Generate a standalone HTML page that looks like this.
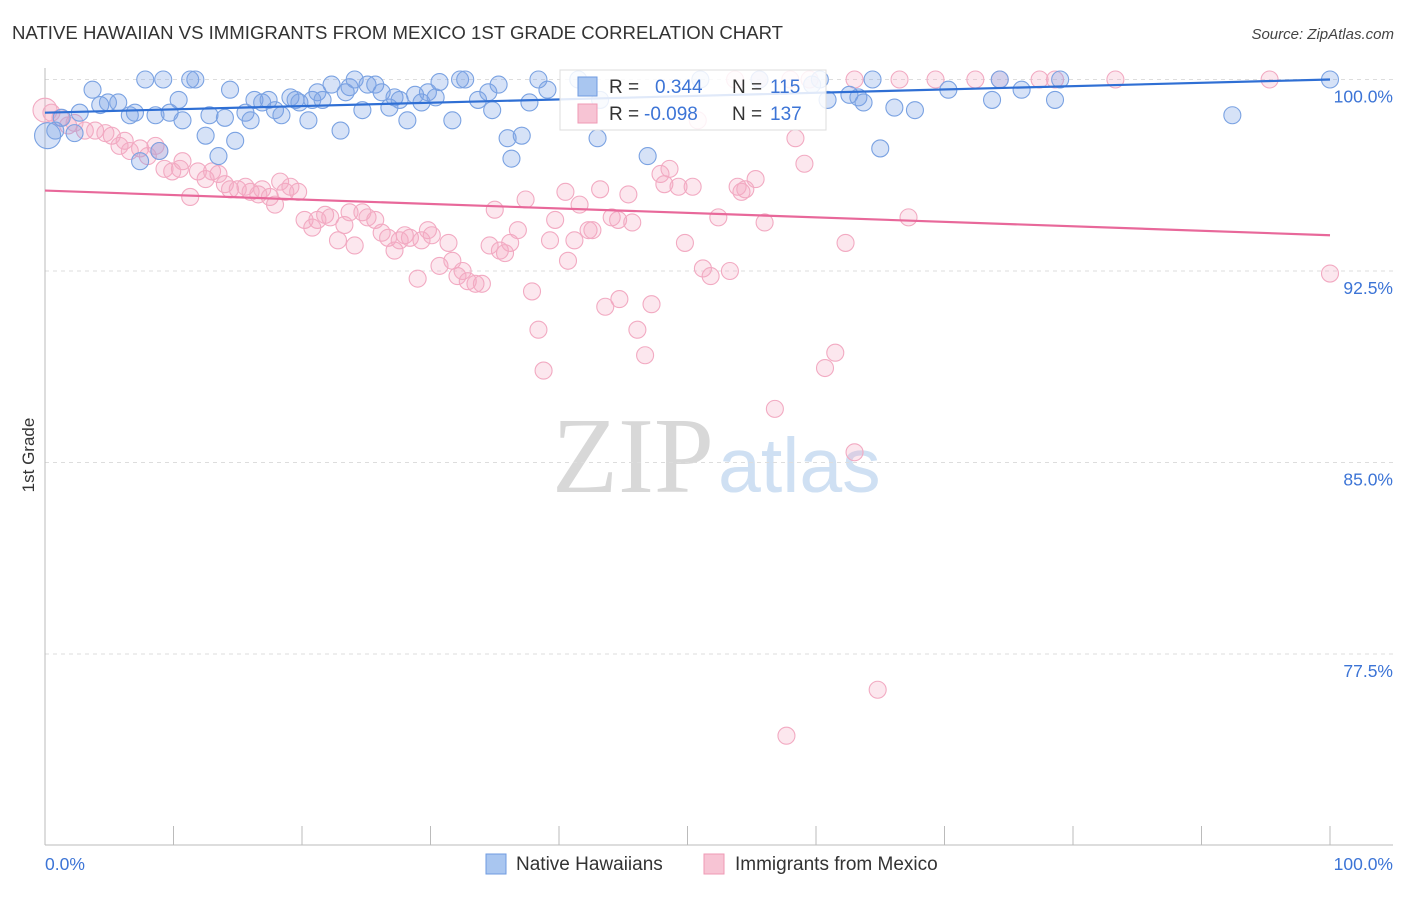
<!DOCTYPE html>
<html><head><meta charset="utf-8"><style>
body{margin:0;background:#fff;font-family:"Liberation Sans",sans-serif}
svg text{font-family:"Liberation Sans",sans-serif}
</style></head><body>
<svg id="chart" width="1406" height="892" xmlns="http://www.w3.org/2000/svg">
<text x="12" y="39" font-size="18.6" fill="#333">NATIVE HAWAIIAN VS IMMIGRANTS FROM MEXICO 1ST GRADE CORRELATION CHART</text>
<text x="1394" y="39" font-size="15" fill="#444" text-anchor="end" font-style="italic">Source: ZipAtlas.com</text>
<g>
<text x="552" y="492" font-size="108" fill="#d8d8d8" font-family="Liberation Serif" style="font-family:'Liberation Serif',serif">ZIP</text>
<text x="718" y="492" font-size="77" fill="#cfe0f3">atlas</text>
</g>
<g id="grid"></g>
<g id="axes"></g>
<g id="marks"></g>
<text transform="translate(34,455) rotate(-90)" font-size="17" fill="#333" text-anchor="middle">1st Grade</text>
<g>
<rect x="560" y="70" width="266" height="60" fill="#fff" fill-opacity="0.85" stroke="#ddd"/>
<rect x="578" y="77" width="19" height="19" fill="#a9c6f0" stroke="#6f9be0"/>
<text x="609" y="93" font-size="19" fill="#333">R =</text><text x="655" y="93" font-size="19" fill="#3c74d6">0.344</text>
<text x="732" y="93" font-size="19" fill="#333">N =</text><text x="770" y="93" font-size="19" fill="#3c74d6">115</text>
<rect x="578" y="104" width="19" height="19" fill="#f7c4d4" stroke="#ef9ab5"/>
<text x="609" y="120" font-size="19" fill="#333">R =</text><text x="644" y="120" font-size="19" fill="#3c74d6">-0.098</text>
<text x="732" y="120" font-size="19" fill="#333">N =</text><text x="770" y="120" font-size="19" fill="#3c74d6">137</text>
</g>
<g>
<g><rect x="486" y="854" width="20" height="20" fill="#a9c6f0" stroke="#6f9be0"/><text x="516" y="870" font-size="19" fill="#333">Native Hawaiians</text></g>
<g><rect x="704" y="854" width="20" height="20" fill="#f7c4d4" stroke="#ef9ab5"/><text x="735" y="870" font-size="19" fill="#333">Immigrants from Mexico</text></g>
</g>
</svg>
<script>
const yTicks=[100,92.5,85,77.5];
const yTickLabels=["100.0%","92.5%","85.0%","77.5%"];
const xTickLabels=["0.0%","100.0%"];
const blueX=[0.2,0.8,1.3,2.3,2.7,3.7,4.3,4.9,5.7,6.6,7.0,7.4,7.8,8.6,8.9,9.2,9.7,10.4,10.7,11.3,11.7,12.5,12.8,13.5,14.0,14.4,14.8,15.6,16.0,16.3,16.9,17.4,17.9,18.4,19.1,19.5,19.8,20.5,20.8,21.2,21.6,22.3,23.0,23.4,23.7,24.1,24.7,25.1,25.7,26.2,26.8,27.2,27.6,28.2,28.8,29.3,29.8,30.4,30.7,31.7,32.3,32.7,33.7,34.5,34.8,35.3,36.0,36.3,37.1,37.7,38.4,39.1,41.5,43.0,43.2,46.9,51.0,55.6,59.7,60.3,60.9,62.6,63.3,63.7,64.4,65.0,66.1,67.7,70.3,73.7,74.3,76.0,78.6,79.0,92.4,100];
const blueY=[97.8,98.0,98.5,97.9,98.7,99.6,99.0,99.1,99.1,98.6,98.7,96.8,100,98.6,97.2,100,98.7,99.2,98.4,100,100,97.8,98.6,97.0,98.5,99.6,97.6,98.7,98.4,99.2,99.1,99.2,98.8,98.6,99.3,99.2,99.1,98.4,99.2,99.5,99.2,99.8,98.0,99.5,99.7,100,98.8,99.8,99.8,99.5,98.9,99.3,99.2,98.4,99.4,99.1,99.5,99.3,99.9,98.4,100,100,99.2,99.5,98.8,99.8,97.7,96.9,97.8,99.1,100,99.6,100,97.7,99.2,97.0,100,100,99.8,100,99.2,99.4,99.3,99.1,100,97.3,98.9,98.8,99.6,99.2,100,99.6,99.2,100,98.6,100];
const pinkX=[0,0.5,1.2,1.8,2.3,3.1,3.9,4.7,5.2,5.8,6.2,6.6,7.4,8.0,8.6,8.9,9.3,9.9,10.5,10.7,11.3,11.9,12.5,13.0,13.5,14.0,14.4,15.0,15.6,16.0,16.6,16.9,17.5,17.9,18.3,18.7,19.1,19.7,20.2,20.8,21.2,21.8,22.2,22.8,23.3,23.7,24.1,24.7,25.1,25.7,26.2,26.7,27.2,27.6,28.0,28.4,29.0,29.3,29.8,30.1,30.7,31.4,31.7,32.1,32.5,32.9,33.5,34.0,34.6,35.0,35.4,35.8,36.2,36.8,37.4,37.9,38.4,38.8,39.3,39.7,40.5,40.7,41.2,41.6,42.3,42.6,43.2,43.6,44.1,44.6,44.7,45.4,45.7,46.1,46.7,47.2,47.9,48.2,48.6,49.3,49.8,50.4,50.8,51.2,51.8,52.4,53.3,53.9,54.2,54.5,55.3,56.0,56.8,57.7,58.4,59.1,60.7,61.5,62.3,63.0,64.8,67.2,100,95.3,83.3,78.6,77.4,74.3,72.4,69.3,66.5,63.0,59.5,58.0,55.6,53.7];
const pinkY=[98.8,98.7,98.5,98.2,98.3,98.0,98.0,97.9,97.8,97.4,97.6,97.2,97.3,97.0,97.4,97.2,96.5,96.4,96.5,96.8,95.4,96.4,96.1,96.4,96.3,95.9,95.7,95.7,95.8,95.6,95.5,95.7,95.4,95.1,96.0,95.6,95.8,95.6,94.5,94.2,94.5,94.7,94.6,93.7,94.3,94.8,93.5,94.8,94.6,94.5,94.0,93.8,93.3,93.7,93.9,93.8,92.2,93.7,94.1,93.9,92.7,93.6,92.9,92.3,92.5,92.1,92.0,92.0,93.5,94.9,93.3,93.2,93.6,94.1,95.3,91.7,90.2,88.6,93.7,94.5,95.6,92.9,93.7,95.1,94.1,94.1,95.7,91.1,94.6,94.5,91.4,95.5,94.4,90.2,89.2,91.2,96.3,95.9,96.5,95.8,93.6,95.8,98.4,92.6,92.3,94.6,92.5,95.8,95.6,95.7,96.1,94.4,87.1,74.3,97.7,96.7,88.7,89.3,93.6,85.4,76.1,94.6,92.4,100,100,100,100,100,100,100,100,100,100,100,100,100];
const blueTrend=[98.7,100.0];
const pinkTrend=[95.65,93.9];
const X0=45,X1=1330,YTOP=79.5,PXPER=191.5/7.5;
const sx=v=>X0+(X1-X0)*v/100;
const sy=v=>YTOP+(100-v)*PXPER;
const NS="http://www.w3.org/2000/svg";
function mk(tag,attrs,parent){const e=document.createElementNS(NS,tag);for(const k in attrs)e.setAttribute(k,attrs[k]);parent.appendChild(e);return e;}
const grid=document.getElementById('grid'),axes=document.getElementById('axes'),marks=document.getElementById('marks');
yTicks.forEach((t,i)=>{
 const l=mk('line',{x1:X0,x2:1393,y1:sy(t),y2:sy(t),stroke:'#ddd','stroke-dasharray':'4,4'},grid);
 
 
 const tx=mk('text',{x:1393,y:sy(t)+23,'font-size':17.5,fill:'#3c74d6','text-anchor':'end'},grid);
 tx.textContent=yTickLabels[i];
 
 
});
const ax=mk('line',{x1:X0,x2:1393,y1:845,y2:845,stroke:'#bbb'},axes);


const ay=mk('line',{x1:X0,x2:X0,y1:68,y2:845,stroke:'#bbb'},axes);


for(let i=1;i<=10;i++){const tk=mk('line',{x1:sx(i*10),x2:sx(i*10),y1:826,y2:845,stroke:'#bbb'},axes);
 
 }
[[0,'start',45],[100,'end',1393]].forEach((a,i)=>{const t=mk('text',{x:a[2],y:870,'font-size':17.5,fill:'#3c74d6','text-anchor':a[1]},axes);t.textContent=xTickLabels[i];
 
 });
function dots(xs,ys,fill,stroke,name){xs.forEach((x,i)=>{const r=(i===0)?(name==='blue-point'?13:12):8.5;
 const c=mk('circle',{cx:sx(x),cy:sy(ys[i]),r:r,fill:fill,stroke:stroke,'stroke-width':1.1},marks);
 
 });}
dots(pinkX,pinkY,'rgba(244,170,195,0.28)','#f2aac2','pink-point');
dots(blueX,blueY,'rgba(120,160,230,0.3)','#7aa2e2','blue-point');
const bl=mk('line',{x1:sx(0),y1:sy(blueTrend[0]),x2:sx(100),y2:sy(blueTrend[1]),stroke:'#2f6fd4','stroke-width':2.2},marks);


const pl=mk('line',{x1:sx(0),y1:sy(pinkTrend[0]),x2:sx(100),y2:sy(pinkTrend[1]),stroke:'#e8689a','stroke-width':2.2},marks);


</script>
</body></html>
